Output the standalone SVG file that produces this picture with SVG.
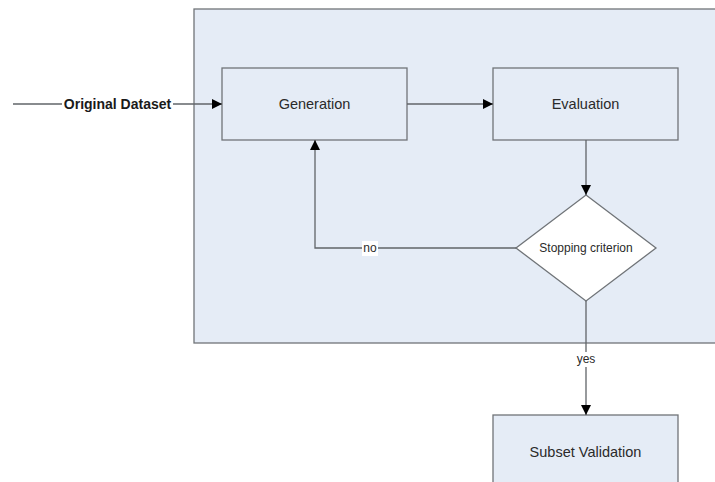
<svg xmlns="http://www.w3.org/2000/svg" width="715" height="482" viewBox="0 0 715 482">
  <style>
    .box { fill: #e5ecf6; stroke: #707478; stroke-width: 1.3; }
    .dec { fill: #ffffff; stroke: #707478; stroke-width: 1.3; }
    .lbl { font-family: "Liberation Sans", Arial, sans-serif; font-size: 14.5px; fill: #2a2a2a; text-anchor: middle; dominant-baseline: central; }
    .edge { fill: none; stroke: #606468; stroke-width: 1.3; }
    .small { font-family: "Liberation Sans", Arial, sans-serif; font-size: 12px; fill: #2a2a2a; text-anchor: middle; dominant-baseline: central; }
  </style>
  <defs>
    <marker id="arrow" markerWidth="10" markerHeight="10" refX="10" refY="5" orient="auto" markerUnits="userSpaceOnUse">
      <path d="M0,0 L10,5 L0,10 Z" fill="#000"/>
    </marker>
  </defs>
  <rect width="715" height="482" fill="#ffffff"/>

  <!-- process boundary -->
  <g id="process">
    <rect class="box" x="194" y="9" width="530" height="334"/>
  </g>

  <g id="generation">
    <rect class="box" x="222" y="68" width="185" height="72"/>
    <text class="lbl" x="314.5" y="104">Generation</text>
  </g>

  <g id="evaluation">
    <rect class="box" x="493" y="68" width="185" height="72"/>
    <text class="lbl" x="585.5" y="104">Evaluation</text>
  </g>

  <g id="stopping">
    <polygon class="dec" points="586,195 656,248 586,301 516,248"/>
    <text class="small" x="586" y="248">Stopping criterion</text>
  </g>

  <g id="validation">
    <rect class="box" x="493" y="415" width="185" height="80"/>
    <text class="lbl" x="585.5" y="452">Subset Validation</text>
  </g>

  <g id="connectors">
    <line class="edge" x1="13" y1="104" x2="222" y2="104" marker-end="url(#arrow)"/>
    <line class="edge" x1="407" y1="104" x2="493" y2="104" marker-end="url(#arrow)"/>
    <line class="edge" x1="586" y1="140" x2="586" y2="195" marker-end="url(#arrow)"/>
    <polyline class="edge" points="516,248 315,248 315,140" marker-end="url(#arrow)"/>
    <line class="edge" x1="586" y1="301" x2="586" y2="415" marker-end="url(#arrow)"/>
    <!-- edge labels with backgrounds -->
    <rect x="62" y="94" width="111" height="20" fill="#ffffff"/>
    <text x="117.5" y="104" font-family="Liberation Sans, Arial, sans-serif" font-size="14" font-weight="bold" fill="#1a1a1a" text-anchor="middle" dominant-baseline="central">Original Dataset</text>
    <rect x="362" y="241" width="16" height="15" fill="#ffffff"/>
    <text class="small" x="370" y="248">no</text>
    <rect x="575" y="352" width="22" height="15" fill="#ffffff"/>
    <text class="small" x="586" y="359">yes</text>
  </g>
</svg>
